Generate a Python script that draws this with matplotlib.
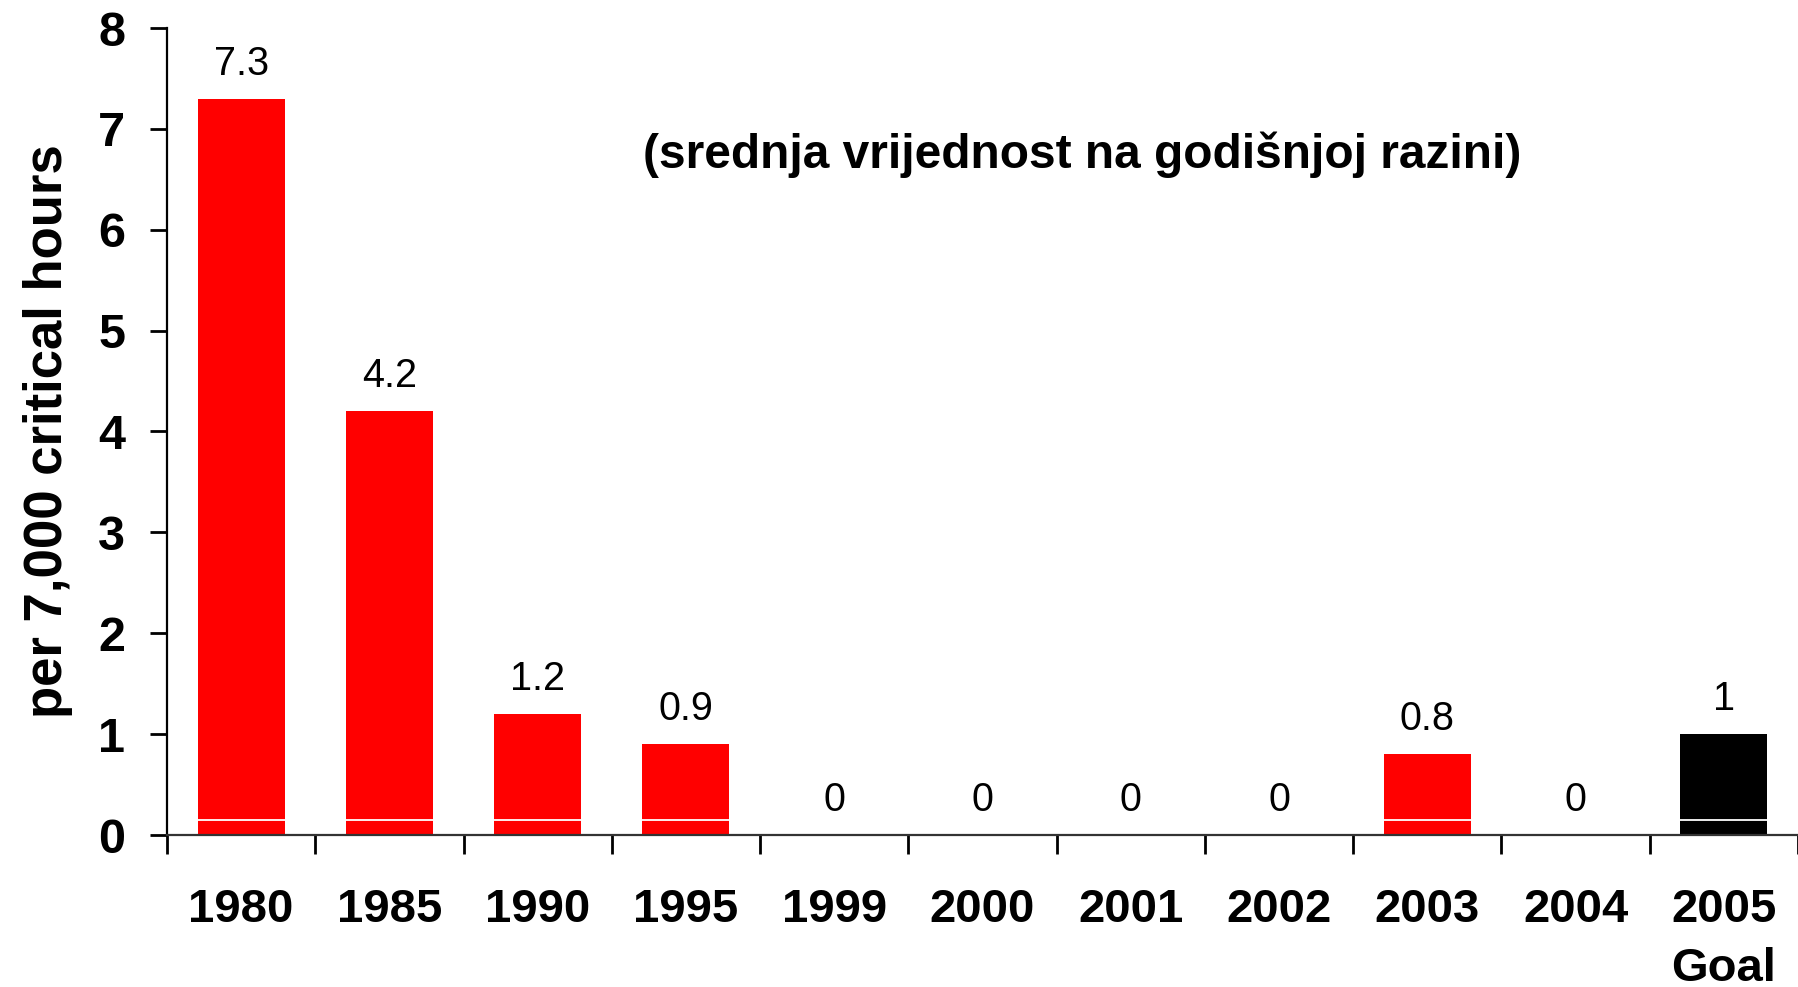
import matplotlib
matplotlib.use("Agg")
import matplotlib.pyplot as plt
from matplotlib.ticker import FixedLocator

plt.rcParams['font.family'] = ['Liberation Sans', 'DejaVu Sans']

categories = ["1980", "1985", "1990", "1995", "1999", "2000", "2001", "2002", "2003", "2004", "2005\nGoal"]
values = [7.3, 4.2, 1.2, 0.9, 0, 0, 0, 0, 0.8, 0, 1]
value_labels = ["7.3", "4.2", "1.2", "0.9", "0", "0", "0", "0", "0.8", "0", "1"]
colors = ["#FF0000"] * 10 + ["#000000"]
y_ticks = [0, 1, 2, 3, 4, 5, 6, 7, 8]
y_label = "per 7,000 critical hours"
note = "(srednja vrijednost na godišnjoj razini)"

W, H = 1798, 987
fig = plt.figure(figsize=(17.98, 9.8705), dpi=100)
ax = fig.add_axes([167 / W, 1 - 835 / H, 1 - 167 / W, (835 - 28) / H])

x = list(range(len(categories)))
ax.bar(x, values, width=0.587, color=colors, zorder=1)
ax.axhline(0.15, color="white", lw=1.3, zorder=1.5)

for xi, v, lab in zip(x, values, value_labels):
    ax.annotate(lab, (xi, v), xytext=(0, 17.3), textcoords="offset points",
                ha="center", va="baseline", fontsize=28.5, color="black")

ax.set_xlim(-0.5, len(categories) - 0.5)
ax.set_ylim(0, 8)

ax.set_xticks(x)
ax.set_xticklabels(categories, fontsize=34, fontweight="bold", linespacing=1.45)
ax.tick_params(axis="x", which="major", length=0, pad=38)
ax.xaxis.set_minor_locator(FixedLocator([i - 0.5 for i in range(len(categories) + 1)]))
ax.tick_params(axis="x", which="minor", length=14, width=2, direction="out")

ax.set_yticks(y_ticks)
ax.set_yticklabels([str(t) for t in y_ticks], fontsize=35, fontweight="bold")
ax.tick_params(axis="y", length=12, width=2, pad=18, direction="out")

for s in ["top", "right"]:
    ax.spines[s].set_visible(False)
ax.spines["left"].set_linewidth(1.6)
ax.spines["bottom"].set_linewidth(1.6)
ax.spines["bottom"].set_color("#333333")

fig.text(48 / W, 1 - 431 / H, y_label, rotation=90, ha="center", va="center",
         fontsize=38, fontweight="bold")
fig.text(1082 / W, 1 - 168 / H, note, ha="center", va="baseline",
         fontsize=34.5, fontweight="bold")

fig.savefig("out.png", dpi=100)
